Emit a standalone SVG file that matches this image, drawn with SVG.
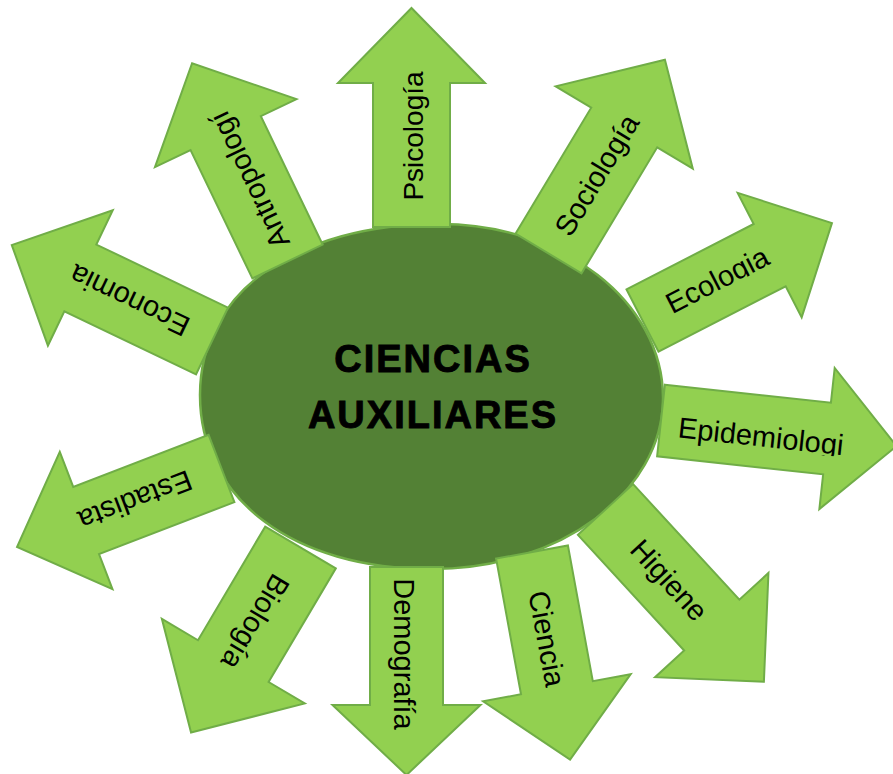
<svg xmlns="http://www.w3.org/2000/svg" width="893" height="774" viewBox="0 0 893 774">
<defs>
<style>
.arrow{fill:#92d050;stroke:#70ad47;stroke-width:2}
.lbl{font-family:'Liberation Sans',Arial,sans-serif;font-size:29px;fill:#000;text-anchor:middle}
.title{font-family:'Liberation Sans',Arial,sans-serif;font-weight:bold;font-size:38px;letter-spacing:2px;text-anchor:middle;fill:#000;stroke:#000;stroke-width:0.9}
</style>
<clipPath id="clipEco"><rect x="0" y="-40" width="200" height="49"/></clipPath>
<clipPath id="clipEpi"><polygon points="0,-40 240,-40 240,14.5 0,23"/></clipPath>
</defs>
<rect width="893" height="774" fill="#fff"/>
<g id="center">
<path d="M440,224 C563,224 663,302 663,398 C663,492 560,569 432,569 C293,569 200,499 200,395 C200,292 296,224 440,224 Z" fill="#538135" stroke="#70ad47" stroke-width="2.5"/>
<text class="title" x="433" y="372">CIENCIAS</text>
<text class="title" x="433" y="428">AUXILIARES</text>
</g>
<g id="connectors"/>
<g id="psicologia" transform="translate(411.5,227) rotate(-90)">
<polygon class="arrow" points="0,-38.5 144,-38.5 144,-73.5 219,0 144,73.5 144,38.5 0,38.5"/>
<text class="lbl" x="91" y="11" style="font-size:28px">Psicología</text>
</g>
<g id="sociologia" transform="translate(548.5,253.5) rotate(-59)">
<polygon class="arrow" points="0,-38.5 147,-38.5 147,-80 226,0 147,80 147,38.5 0,38.5"/>
<text class="lbl" x="92" y="11">Sociología</text>
</g>
<g id="ecologia" transform="translate(642.5,320.5) rotate(-27.2)">
<polygon class="arrow" points="0,-35 143,-35 143,-70 213,0 143,70 143,35 0,35"/>
<text class="lbl" x="85" y="8" clip-path="url(#clipEco)">Ecologia</text>
</g>
<g id="epidemiologia" transform="translate(661,420.5) rotate(6.2)">
<polygon class="arrow" points="0,-36 167,-36 167,-71 237,0 167,71 167,36 0,36"/>
<text class="lbl" x="101" y="15" clip-path="url(#clipEpi)">Epidemiologi</text>
</g>
<g id="higiene" transform="translate(605.5,509.5) rotate(47.4)">
<polygon class="arrow" points="0,-37.5 157,-37.5 157,-77 234,0 157,77 157,37.5 0,37.5"/>
<text class="lbl" x="95" y="11">Higiene</text>
</g>
<g id="ciencia" transform="translate(532,552) rotate(79.6)">
<polygon class="arrow" points="0,-36.5 138,-36.5 138,-75 211,0 138,75 138,36.5 0,36.5"/>
<text class="lbl" x="88" y="11">Ciencia</text>
</g>
<g id="demografia" transform="translate(406.5,567) rotate(90)">
<polygon class="arrow" points="0,-36.5 138,-36.5 138,-74 208,0 138,74 138,36.5 0,36.5"/>
<text class="lbl" x="87" y="13">Demografía</text>
</g>
<g id="biologia" transform="translate(300.5,547.5) rotate(120.6)">
<polygon class="arrow" points="0,-41 132,-41 132,-83 215,0 132,83 132,41 0,41"/>
<text class="lbl" x="87" y="11">Biología</text>
</g>
<g id="estadistica" transform="translate(221.5,468.5) rotate(159)">
<polygon class="arrow" points="0,-36 145,-36 145,-73.5 219,0 145,73.5 145,36 0,36"/>
<text class="lbl" x="92" y="11">Estadista</text>
</g>
<g id="economia" transform="translate(212,341) rotate(205.6)">
<polygon class="arrow" points="0,-37 146,-37 146,-75 222,0 146,75 146,37 0,37"/>
<text class="lbl" x="92" y="11">Economia</text>
</g>
<g id="antropologia" transform="translate(287.5,261.5) rotate(-115.7)">
<polygon class="arrow" points="0,-39 142.5,-39 142.5,-78.5 220,0 142.5,78.5 142.5,39 0,39"/>
<text class="lbl" x="90" y="11">Antropologí</text>
</g>
</svg>
